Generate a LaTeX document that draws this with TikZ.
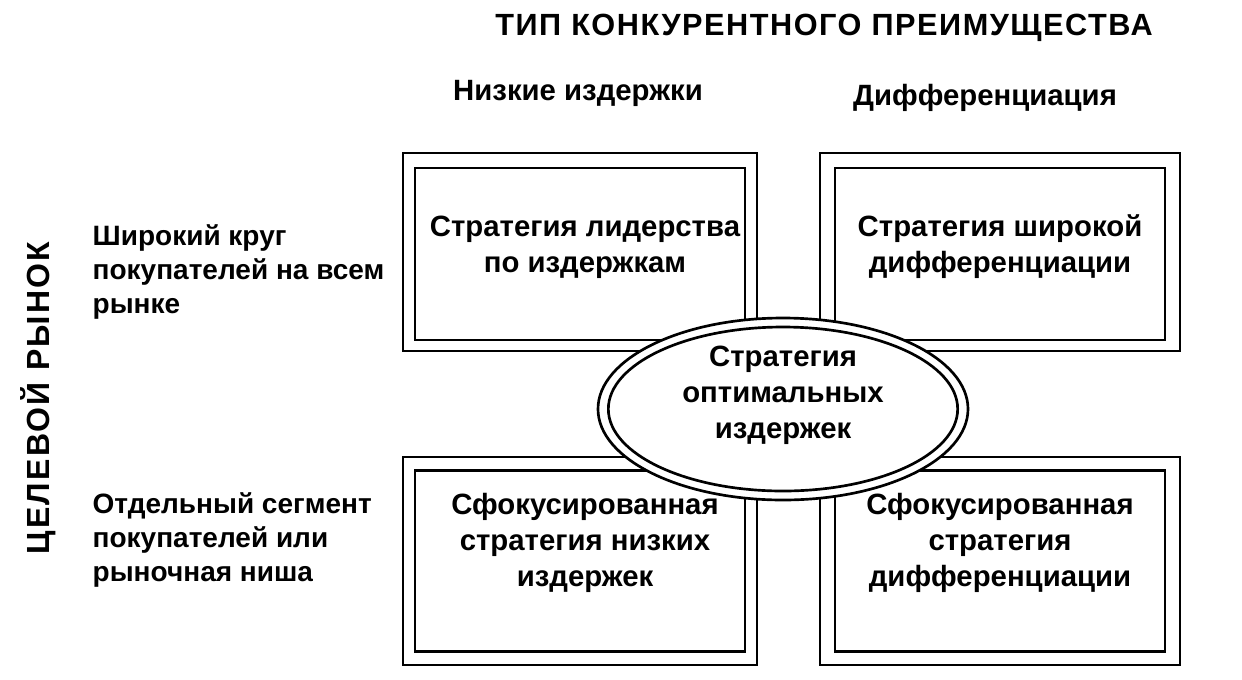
\documentclass[tikz,border=0pt]{standalone}
\usepackage{fontspec}
\setmainfont{Liberation Sans}
\usetikzlibrary{shapes.geometric}
\begin{document}
\begin{tikzpicture}[x=0.75pt,y=-0.75pt,
  txt/.style={font=\bfseries\fontsize{22}{27}\selectfont, align=center},
  lbl/.style={font=\bfseries\fontsize{21}{25.5}\selectfont, align=left, anchor=west},
  inbox/.style={draw, line width=2pt, minimum width=247.5pt},
  outer/.style={draw, line width=1.5pt}]
\useasboundingbox (0,0) rectangle (1242,679);
% top boxes
\node[inbox, minimum height=129pt] (tl) at (580,254) {};
\draw[outer] (403,153) rectangle (757,351);
\node[txt] (tlt) at (585,247) {Стратегия лидерства\\по издержкам};
\node[inbox, minimum height=129pt] (tr) at (1000,254) {};
\draw[outer] (820,153) rectangle (1180,351);
\node[txt] (trt) at (1000,247) {Стратегия широкой\\дифференциации};
% bottom boxes
\node[inbox, minimum height=136pt] (bl) at (580,561) {};
\draw[outer] (403,457) rectangle (757,665);
\node[txt] (blt) at (585,543) {Сфокусированная\\стратегия низких\\издержек};
\node[inbox, minimum height=136pt] (br) at (1000,561) {};
\draw[outer] (820,457) rectangle (1180,665);
\node[txt] (brt) at (1000,543) {Сфокусированная\\стратегия\\дифференциации};
% ellipse
\draw[line width=2pt, fill=white] (783,409) ellipse [x radius=185, y radius=91];
\node[ellipse, draw, line width=2pt, minimum width=262pt, minimum height=123pt, inner sep=0pt] (e) at (783,409) {};
\node[txt] (et) at (783,395) {Стратегия\\оптимальных\\издержек};
% headings
\node[font=\bfseries\fontsize{23}{27}\selectfont\addfontfeatures{LetterSpace=5}] (title) at (824,28) {ТИП КОНКУРЕНТНОГО ПРЕИМУЩЕСТВА};
\node[txt] (low) at (578,93) {Низкие издержки};
\node[txt] (diff) at (985,98) {Дифференциация};
\node[font=\bfseries\fontsize{24}{27}\selectfont\addfontfeatures{LetterSpace=7}, rotate=90] (tm) at (38,398) {ЦЕЛЕВОЙ РЫНОК};
\node[lbl] (wide) at (88,272) {Широкий круг\\покупателей на всем\\рынке};
\node[lbl] (seg) at (88,540) {Отдельный сегмент\\покупателей или\\рыночная ниша};
\end{tikzpicture}
\end{document}
